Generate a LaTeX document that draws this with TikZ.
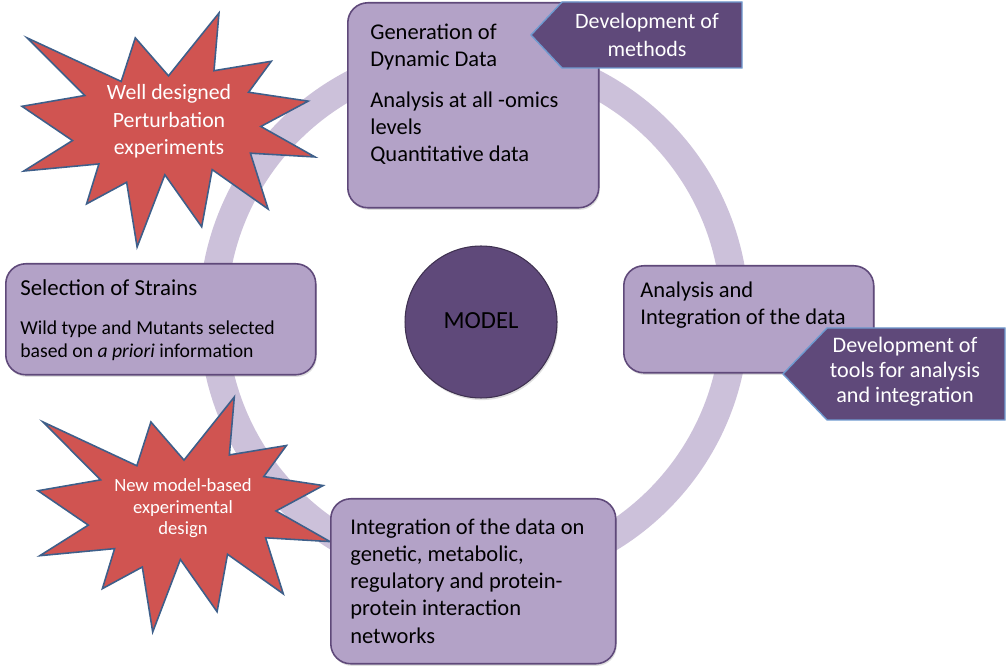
\documentclass[tikz,border=0pt]{standalone}
\usepackage{fontspec}
\setmainfont{Carlito}
\usetikzlibrary{positioning,shadows}
\definecolor{ringcol}{HTML}{CCC1DA}
\definecolor{boxfill}{HTML}{B3A2C7}
\definecolor{boxline}{HTML}{5F497A}
\definecolor{tagfill}{HTML}{5F497A}
\definecolor{tagline}{HTML}{6F9AD0}
\definecolor{burstfill}{HTML}{D05451}
\definecolor{burstline}{HTML}{3E5F8A}
\definecolor{modelline}{HTML}{3F3151}
\tikzset{%
	stage/.style     = {draw=boxline, fill=boxfill, line width=0.9pt, rounded corners=0.4cm, inner sep=0pt, anchor=north west, drop shadow={opacity=0.25, shadow xshift=0.6pt, shadow yshift=-1.2pt}},
	stagetext/.style = {anchor=base west, align=left, inner sep=0pt, font=\fontsize{12.8}{15.4}\selectfont},
	tag/.style       = {draw=tagline, fill=tagfill, line width=0.8pt, line join=miter},
	tagtext/.style   = {anchor=base, align=center, inner sep=0pt, text=white},
	burst/.style     = {draw=burstline, fill=burstfill, line width=0.9pt, line join=miter},
	bursttext/.style = {anchor=base, align=center, inner sep=0pt, text=white},
}
% explosion outline, 216 x 216 units
\newcommand{\burstpath}{(108,58) -- (145.22,0) -- (141.55,53.25) -- (183.80,44.57) -- (167.02,73.15) -- (210.97,81.37) -- (176.07,104.75) -- (216,132.90) -- (168.37,129.42) -- (181.45,180.95) -- (140.20,144.57) -- (132.47,197.37) -- (105.32,149.35) -- (84.85,216) -- (77.15,156.27) -- (47.62,176.17) -- (56.67,139.37) -- (1.35,145.87) -- (37.22,117.75) -- (0,86.15) -- (46.27,76.17) -- (3.70,22.95) -- (73.12,63.20) -- (83.52,22.95) -- cycle}

\begin{document}
\begin{tikzpicture}[x=0.02cm,y=-0.02cm]
	\useasboundingbox (0,0) rectangle (1007,671);
	
	% cycle ring
	\draw[ringcol, line width=0.56cm] (474,315) circle (261);
	
	% centre
	\node[circle, draw=modelline, fill=tagfill, line width=0.6pt, minimum size=3.04cm, inner sep=0pt, drop shadow={opacity=0.25, shadow xshift=0.6pt, shadow yshift=-1.2pt}] (model) at (481,322) {};
	\node[anchor=base, inner sep=0pt, font=\fontsize{14}{16}\selectfont] (modeltxt) at (481,329) {MODEL};
	
	% bursts (text anchored on its last line)
	\begin{scope}[shift={(22,13)}, xscale=293/216, yscale=234/216]
	\draw[burst] \burstpath;
	\end{scope}
	\node[bursttext, font=\fontsize{12.4}{15.7}\selectfont] (perturb) at (169,155) {Well designed\\Perturbation\\experiments};
	
	\begin{scope}[shift={(38,397)}, xscale=292/216, yscale=235/216]
	\draw[burst] \burstpath;
	\end{scope}
	\node[bursttext, font=\fontsize{10.6}{12.3}\selectfont] (newdesign) at (183,535) {New model-based\\experimental\\design};
	
	% stages
	\node[stage, minimum width=5.02cm, minimum height=4.1cm] (gen) at (347,2) {};
	\node[stagetext] (gentxt) at (370,162) {Generation of\\Dynamic Data\\[8pt]Analysis at all -omics\\levels\\Quantitative data};
	
	\node[stage, minimum width=6.2cm, minimum height=2.22cm] (strains) at (5,263) {};
	\node[stagetext, font=\fontsize{11.2}{13.4}\selectfont] (strainstxt) at (20,358) {{\fontsize{13}{13.4}\selectfont Selection of Strains}\\[9pt]Wild type and Mutants selected\\based on \textit{a priori} information};
	
	\node[stage, minimum width=5cm, minimum height=2.14cm] (anal) at (623,265) {};
	\node[stagetext, font=\fontsize{12.8}{15.9}\selectfont] (analtxt) at (640,325) {Analysis and\\Integration of the data};
	
	\node[stage, minimum width=5.7cm, minimum height=3.3cm] (integ) at (330,498) {};
	\node[stagetext] (integtxt) at (350,643) {Integration of the data on\\genetic, metabolic,\\regulatory and protein-\\protein interaction\\networks};
	
	% development tags
	\draw[tag] (531,35) -- (562,2) -- (742,2) -- (742,68) -- (562,68) -- cycle;
	\node[tagtext, font=\fontsize{12.5}{16.5}\selectfont] (methods) at (647,57) {Development of\\methods};
	
	\draw[tag] (783,374) -- (827,328) -- (1005,328) -- (1005,420) -- (827,420) -- cycle;
	\node[tagtext, font=\fontsize{12.6}{14.5}\selectfont] (tools) at (905,403) {Development of\\tools for analysis\\and integration};
\end{tikzpicture}
\end{document}
